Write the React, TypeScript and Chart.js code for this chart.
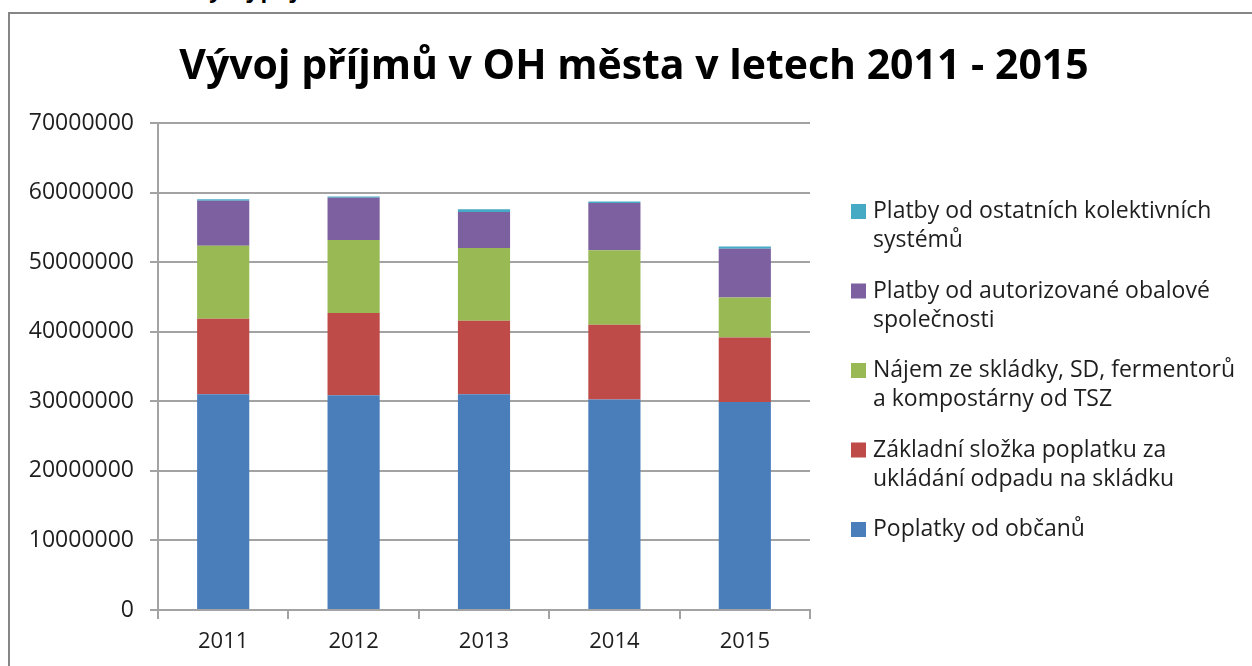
import React, { useEffect, useRef } from "react";
import { Chart, registerables } from "chart.js";

Chart.register(...registerables);

// ---- data ----
const years = ["2011", "2012", "2013", "2014", "2015"];
const poplatkyObcanu = [31000000, 30850000, 31000000, 30250000, 29900000];
const zakladniSlozka = [10870000, 11840000, 10580000, 10750000, 9260000];
const najemSkladky = [10500000, 10500000, 10460000, 10700000, 5750000];
const platbyAutorizovane = [6460000, 6050000, 5180000, 6810000, 7010000];
const platbyOstatni = [200000, 180000, 380000, 190000, 330000];

const yMin = 0;
const yMax = 70000000;
const yStep = 10000000;

const chartTitle = "Vývoj příjmů v OH města v letech 2011 - 2015";
const headingAbove = "Vývoj příjmů";

const seriesLines = [
  ["Poplatky od občanů"],
  ["Základní složka poplatku za", "ukládání odpadu na skládku"],
  ["Nájem ze skládky, SD, fermentorů", "a kompostárny od TSZ"],
  ["Platby od autorizované obalové", "společnosti"],
  ["Platby od ostatních kolektivních", "systémů"],
];
const seriesValues = [poplatkyObcanu, zakladniSlozka, najemSkladky, platbyAutorizovane, platbyOstatni];
const seriesColors = ["#4A7EBB", "#BE4B48", "#98B954", "#7D60A0", "#46AAC5"];

const FONT = "'Open Sans', 'Noto Sans', 'DejaVu Sans', sans-serif";
const GRID = "#a3a3a3";

const titleAndLegend = {
  id: "titleAndLegend",
  afterDraw(chart: any) {
    const ctx = chart.ctx;
    ctx.save();
    // title
    ctx.font = `bold 41px ${FONT}`;
    ctx.textAlign = "center";
    ctx.textBaseline = "alphabetic";
    ctx.fillStyle = "#000000";
    ctx.fillText(chartTitle, 634, 79);
    // legend (reverse order, like the reference)
    ctx.font = `23px ${FONT}`;
    ctx.textAlign = "left";
    const ds = chart.data.datasets;
    let base = 218;
    for (let i = ds.length - 1; i >= 0; i--) {
      const lines = seriesLines[i];
      ctx.fillStyle = ds[i].backgroundColor;
      ctx.fillRect(851, base - 14, 15, 15);
      ctx.fillStyle = "#1e1e1e";
      lines.forEach((l: string, j: number) => ctx.fillText(l, 873, base + j * 29));
      base += 79.5;
    }
    ctx.restore();
  },
};

export default function App() {
  const ref = useRef<HTMLCanvasElement | null>(null);

  useEffect(() => {
    if (!ref.current) return;
    const chart = new Chart(ref.current, {
      type: "bar",
      data: {
        labels: years,
        datasets: seriesValues.map((vals, i) => ({
          label: seriesLines[i].join(" "),
          data: vals,
          backgroundColor: seriesColors[i],
          borderWidth: 0,
          barPercentage: 0.4,
          categoryPercentage: 1,
        })),
      },
      options: {
        animation: false,
        responsive: true,
        maintainAspectRatio: false,
        layout: { padding: { left: 0, right: 442, top: 123, bottom: 0 } },
        plugins: {
          legend: { display: false },
          tooltip: { enabled: false },
          title: { display: false },
        },
        scales: {
          x: {
            stacked: true,
            afterFit: (s: any) => {
              s.height = 56;
            },
            grid: {
              offset: true,
              drawOnChartArea: false,
              drawTicks: true,
              tickLength: 9,
              color: GRID,
              lineWidth: 2,
            },
            border: { color: GRID, width: 2 },
            ticks: {
              color: "#1e1e1e",
              padding: 10,
              font: { family: FONT, size: 22 },
              maxRotation: 0,
            },
          },
          y: {
            stacked: true,
            min: yMin,
            max: yMax,
            afterFit: (s: any) => {
              s.width = 158;
            },
            grid: {
              drawTicks: true,
              tickLength: 8,
              color: GRID,
              lineWidth: 2,
            },
            border: { color: GRID, width: 2 },
            ticks: {
              stepSize: yStep,
              color: "#1e1e1e",
              padding: 16,
              font: { family: FONT, size: 23 },
              callback: (v: any) => String(v),
            },
          },
        },
      },
      plugins: [titleAndLegend],
    });
    return () => chart.destroy();
  }, []);

  return (
    <div
      style={{
        position: "fixed",
        left: 0,
        top: 0,
        width: 1252,
        height: 666,
        overflow: "hidden",
        background: "#ffffff",
      }}
    >
      <div
        style={{
          position: "absolute",
          left: 195,
          top: -22,
          fontFamily: FONT,
          fontWeight: "bold",
          fontSize: 22,
          lineHeight: "22px",
          color: "#000",
          whiteSpace: "nowrap",
        }}
      >
        {headingAbove}
      </div>
      <div
        style={{
          position: "absolute",
          left: 8,
          top: 12,
          width: 1400,
          height: 800,
          border: "2px solid #868686",
        }}
      />
      <div style={{ position: "absolute", left: 0, top: 0, width: 1252, height: 666 }}>
        <canvas ref={ref} />
      </div>
    </div>
  );
}
